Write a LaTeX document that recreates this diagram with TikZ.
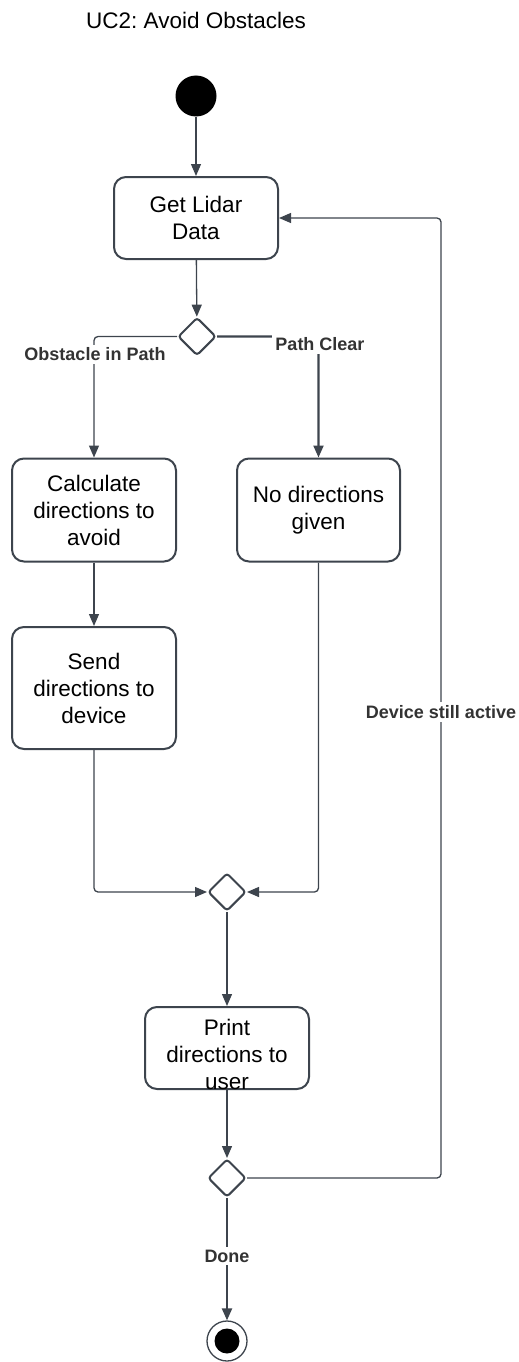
\documentclass[tikz,border=0pt]{standalone}
\usepackage{fontspec}
\setmainfont{Liberation Sans}
\usetikzlibrary{arrows.meta,shapes.geometric,calc}
\definecolor{edge}{HTML}{3D444D}
\definecolor{lbl}{HTML}{333333}
\frenchspacing
\begin{document}
\begin{tikzpicture}[x=1pt,y=-1pt,
  every node/.style={font=\fontsize{22.5}{27}\selectfont},
  action/.style={draw=edge,line width=2pt,rounded corners=12pt,align=center,inner sep=0pt,fill=white},
  choice/.style={diamond,draw=edge,line width=2pt,rounded corners=3pt,minimum width=38pt,minimum height=38pt,inner sep=0pt,aspect=1},
  flow/.style={draw=edge,line width=1.3pt,rounded corners=4pt,-{Triangle[length=12pt,width=10pt]}},
  strongflow/.style={flow,line width=2.2pt},
  guard/.style={font=\fontsize{18}{21}\selectfont\bfseries,text=lbl,fill=white,inner sep=3pt}
]
\useasboundingbox (0,0) rectangle (519,1362);

% title
\node[anchor=base west,inner sep=0pt] (title) at (86,29) {UC2: Avoid Obstacles};

% initial and final states
\node[circle,fill=black,minimum size=41pt,inner sep=0pt] (start) at (196,96) {};
\node[circle,draw=edge,line width=1.3pt,minimum size=40pt,inner sep=0pt] (final) at (227,1341) {};
\node[circle,fill=black,minimum size=25pt,inner sep=0pt] (finaldot) at (final) {};

% actions
\node[action,minimum width=164pt,minimum height=82pt] (lidar) at (196,218) {Get Lidar\\Data};
\node[action,minimum width=164pt,minimum height=103pt] (calc) at (94,510) {Calculate\\directions to\\avoid};
\node[action,minimum width=163pt,minimum height=103pt] (nodir) at (318.5,510) {No directions\\given};
\node[action,minimum width=164pt,minimum height=122pt] (send) at (94,688) {Send\\directions to\\device};
\node[action,minimum width=164pt,minimum height=82pt,
  label={[align=center,yshift=-6pt]center:Print\\directions to\\user}] (print) at (227,1048) {};

% decision / merge points
\node[choice] (d1) at (197,336.5) {};
\node[choice] (d2) at (227,892) {};
\node[choice] (d3) at (227,1178) {};
\coordinate (loopx) at (441,0);

% connectors
\draw[flow] (start) -- (lidar);
\draw[flow] (lidar) -- (d1);
\draw[flow] (d1.west) -| (calc.north);
\draw[strongflow] (d1.east) -| (nodir.north);
\draw[flow] (calc) -- (send);
\draw[flow] (send.south) |- (d2.west);
\draw[flow] (nodir.south) |- (d2.east);
\draw[flow] (d2) -- (print);
\draw[flow] (print) -- (d3);
\draw[flow] (d3.east) -| (loopx |- lidar.east) -- (lidar.east);
\draw[strongflow,rounded corners=0pt] (d3.south) -- (final.north);

% guards
\node[guard] (gobst) at (95,354.5) {Obstacle in Path};
\node[guard] (gclear) at (320,344) {Path Clear};
\node[guard] (gactive) at (441,712) {Device still active};
\node[guard] (gdone) at (227,1256) {Done};
\end{tikzpicture}
\end{document}
